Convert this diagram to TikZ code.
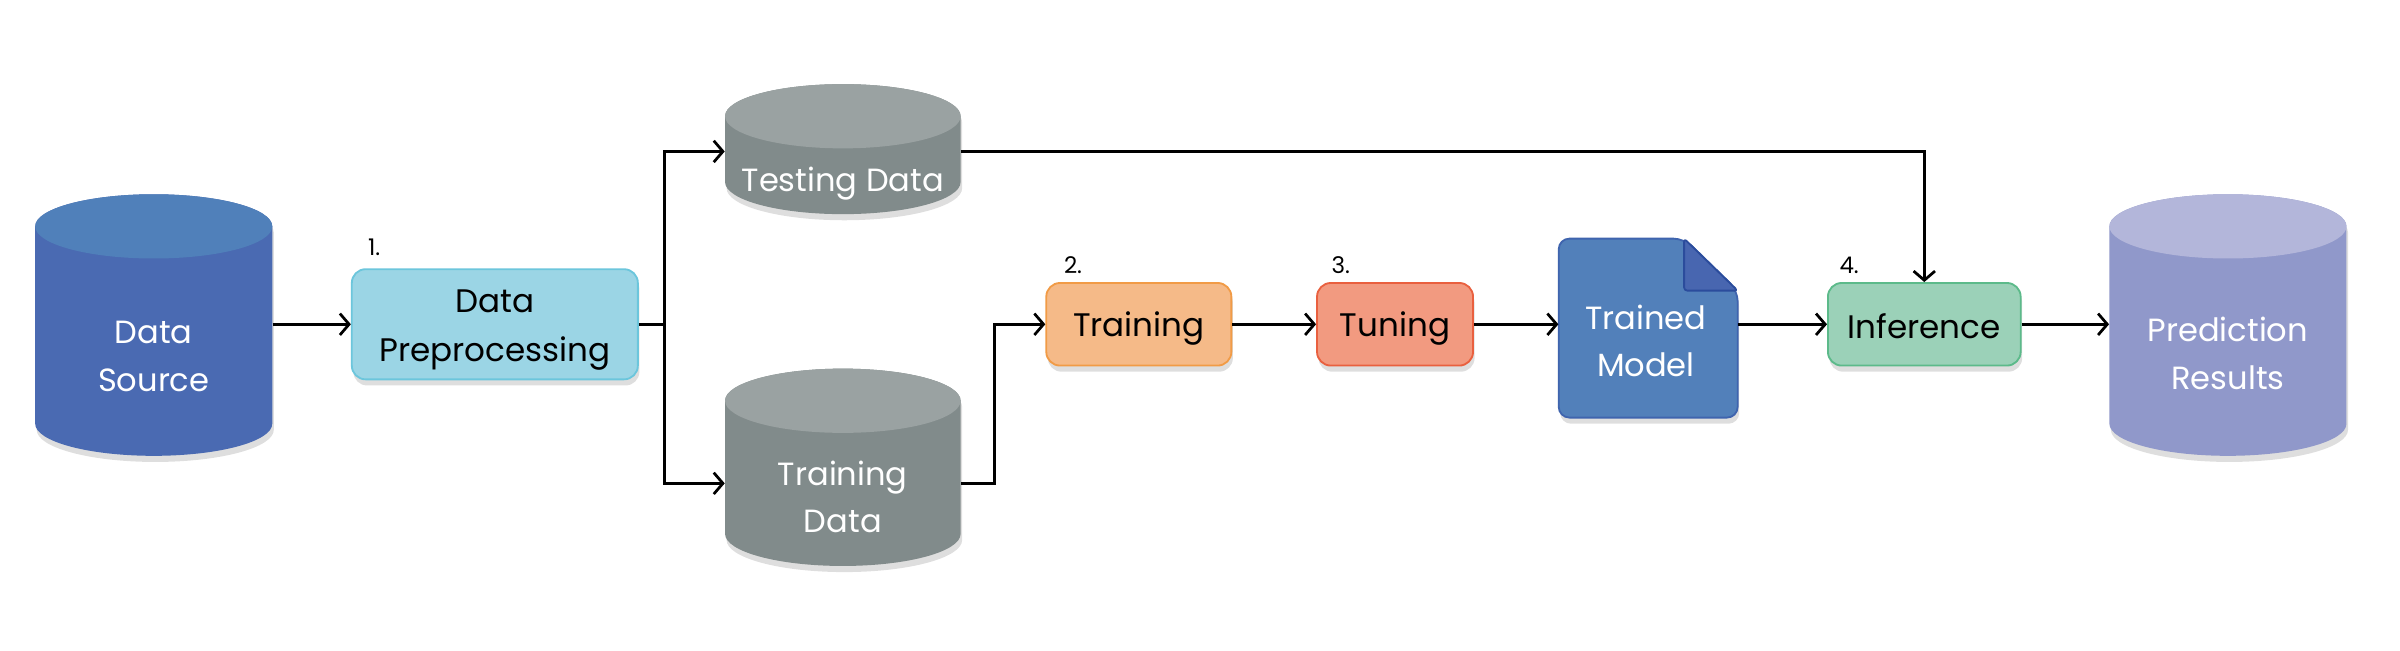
\documentclass[tikz,border=0pt]{standalone}
\usepackage{fontspec}
\setmainfont{Poppins}
\usetikzlibrary{arrows.meta,shadows,calc}
\definecolor{srcTop}{HTML}{5080BA}
\definecolor{srcBody}{HTML}{4A6AB2}
\definecolor{grayTop}{HTML}{9AA2A2}
\definecolor{grayBody}{HTML}{818B8B}
\definecolor{predTop}{HTML}{B3B6DA}
\definecolor{predBody}{HTML}{9098CA}
\definecolor{prepFill}{HTML}{9BD5E5}
\definecolor{prepLine}{HTML}{6CC6DC}
\definecolor{trnFill}{HTML}{F5BA88}
\definecolor{trnLine}{HTML}{F19B46}
\definecolor{tunFill}{HTML}{F29A80}
\definecolor{tunLine}{HTML}{E9603F}
\definecolor{infFill}{HTML}{9BD1B8}
\definecolor{infLine}{HTML}{5CBA8A}
\definecolor{docFill}{HTML}{5280BA}
\definecolor{docLine}{HTML}{3F64AE}
\definecolor{foldFill}{HTML}{4866B0}
\definecolor{foldLine}{HTML}{2B4C9C}
\tikzset{
  softshadow/.style={drop shadow={shadow xshift=1pt, shadow yshift=-4pt, opacity=0.13, fill=black}},
  celltext/.style={text=white, align=center, inner sep=0pt, font=\fontsize{21}{31}\selectfont},
  stepbox/.style={rounded corners=9pt, line width=1.2pt, inner sep=0pt, softshadow},
  boxtext/.style={text=black, align=center, inner sep=0pt, font=\fontsize{21.3}{32}\selectfont},
  numlbl/.style={inner sep=0pt, text=black, font=\fontsize{15}{17}\selectfont, anchor=south west},
  arr/.style={line width=1.8pt, -{Straight Barb[length=6pt,width=14pt,line width=1.8pt]}},
}
\newcommand\dbcyl[7]{%
  \pgfmathsetmacro\cylrx{(#3-#2)/2}%
  \pgfmathsetmacro\cylcx{(#3+#2)/2}%
  \fill[#7, softshadow] (#2,#4-21) -- (#2,#5+21) arc[start angle=180,end angle=360,x radius=\cylrx,y radius=21] -- (#3,#4-21) arc[start angle=0,end angle=180,x radius=\cylrx,y radius=21] -- cycle;
  \fill[#6] (\cylcx,#4-21) ellipse[x radius=\cylrx, y radius=21];
  \node[inner sep=0pt, minimum width={#3-#2}, minimum height={#4-#5}] (#1) at (\cylcx,{(#4+#5)/2}) {};
}
\begin{document}
\begin{tikzpicture}[x=1pt,y=1pt]
\useasboundingbox[fill=white] (0,0) rectangle (1569,425);

% cylinders
\dbcyl{src}{23}{178}{298}{127}{srcTop}{srcBody}
\node[celltext] (srct) at (100.5,192) {Data\\Source};
\dbcyl{test}{474}{628}{370}{285}{grayTop}{grayBody}
\node[celltext] (testt) at (551,305) {Testing Data};
\dbcyl{tdata}{474}{628}{184}{55}{grayTop}{grayBody}
\node[celltext] (tdatat) at (551,100) {Training\\Data};
\dbcyl{pred}{1379}{1534}{298}{127}{predTop}{predBody}
\node[celltext] (predt) at (1456.5,194) {Prediction\\Results};

% process boxes
\node[stepbox, fill=prepFill, draw=prepLine, minimum width=187pt, minimum height=72pt] (prep) at (323.5,213) {};
\node[boxtext] (prept) at ([yshift=-3.5pt]prep.center) {Data\\Preprocessing};
\node[stepbox, fill=trnFill, draw=trnLine, minimum width=121pt, minimum height=54pt] (trn) at (744.5,213) {};
\node[boxtext] (trnt) at ([yshift=-3pt]trn.center) {Training};
\node[stepbox, fill=tunFill, draw=tunLine, minimum width=102pt, minimum height=54pt] (tun) at (912,213) {};
\node[boxtext] (tunt) at ([yshift=-3pt]tun.center) {Tuning};
\node[stepbox, fill=infFill, draw=infLine, minimum width=126pt, minimum height=54pt] (inf) at (1258,213) {};
\node[boxtext] (inft) at ([yshift=-1.5pt]inf.center) {Inference};

% trained model document
\filldraw[fill=docFill, draw=docLine, line width=1.2pt, rounded corners=7pt, softshadow]
  (1019,269) -- (1101,269) -- (1136,235) -- (1136,152) -- (1019,152) -- cycle;
\filldraw[fill=foldFill, draw=foldLine, line width=1.2pt, rounded corners=2pt, line join=round]
  (1101,269) -- (1101,235) -- (1136,235) -- cycle;
\node[inner sep=0pt, minimum width=117pt, minimum height=117pt] (model) at (1077.5,210.5) {};
\node[celltext] (modelt) at (1076,202) {Trained\\Model};

% step numbers
\node[numlbl] (n1) at ([xshift=11pt,yshift=8pt]prep.north west) {1.};
\node[numlbl] (n2) at ([xshift=12pt,yshift=5pt]trn.north west) {2.};
\node[numlbl] (n3) at ([xshift=10pt,yshift=5pt]tun.north west) {3.};
\node[numlbl] (n4) at ([xshift=8pt,yshift=5pt]inf.north west) {4.};

% connectors
\coordinate (split) at ([xshift=17pt]prep.east);
\draw[arr] (src.east |- prep.west) -- (prep.west);
\draw[line width=1.8pt] (prep.east) -- (split);
\draw[arr] (split) |- ([yshift=-1.5pt]test.west);
\draw[arr] (split) |- ([yshift=-10.5pt]tdata.west);
\draw[arr] ([yshift=-10.5pt]tdata.east) -- ++(22,0) |- (trn.west);
\draw[arr] (trn.east) -- (tun.west);
\draw[arr] (tun.east) -- (tun.east -| model.west);
\draw[arr] (model.east |- inf.west) -- (inf.west);
\draw[arr] (inf.east) -- (inf.east -| pred.west);
\draw[arr] ([yshift=-1.5pt]test.east) -| (inf.north);
\end{tikzpicture}
\end{document}
